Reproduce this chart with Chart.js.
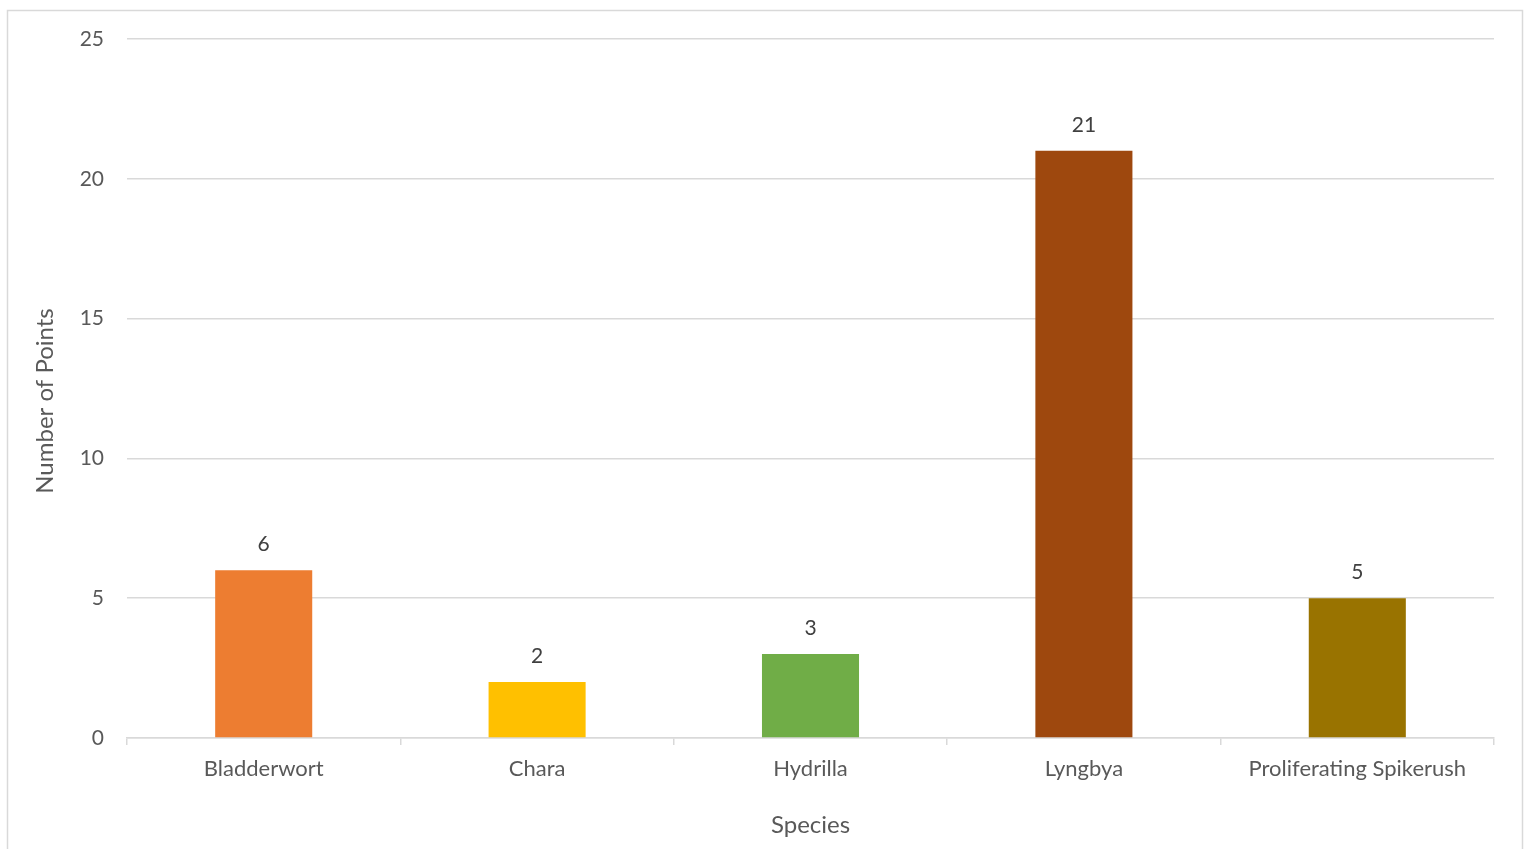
<!DOCTYPE html>
<html>
<head>
<meta charset="utf-8">
<script src="https://cdn.jsdelivr.net/npm/chart.js@4"></script>
<style>
html,body{margin:0;padding:0;background:#fff;overflow:hidden;}
#wrap{position:absolute;left:0;top:0;width:1529px;height:849px;}
</style>
</head>
<body>
<div id="wrap"><canvas id="c" width="1529" height="849"></canvas></div>
<script>
const categories = ["Bladderwort", "Chara", "Hydrilla", "Lyngbya", "Proliferating Spikerush"];
const points = [6, 2, 3, 21, 5];
const barColors = ["#ED7D31", "#FFC000", "#70AD47", "#9E480E", "#997300"];
const yTicks = [0, 5, 10, 15, 20, 25];
const xTitle = "Species";
const yTitle = "Number of Points";

const FONT = "Lato, 'Open Sans', sans-serif";

const frame = {
  id: 'frame',
  beforeDraw(chart) {
    const ctx = chart.ctx;
    ctx.save();
    ctx.fillStyle = '#fff';
    ctx.fillRect(0, 0, chart.width, chart.height);
    ctx.strokeStyle = '#d9d9d9';
    ctx.lineWidth = 1.5;
    ctx.strokeRect(7.5, 10.5, 1515, 860);
    ctx.restore();
  },
  afterDraw(chart) {
    const ctx = chart.ctx;
    ctx.save();
    ctx.font = "24px " + FONT;
    ctx.fillStyle = '#595959';
    ctx.textAlign = 'center';
    ctx.textBaseline = 'middle';
    ctx.translate(45, 401);
    ctx.rotate(-Math.PI / 2);
    ctx.fillText(yTitle, 0, 0);
    ctx.restore();
  }
};

const valueLabels = {
  id: 'valueLabels',
  afterDatasetsDraw(chart) {
    const ctx = chart.ctx;
    const meta = chart.getDatasetMeta(0);
    ctx.save();
    ctx.font = "21px " + FONT;
    ctx.fillStyle = '#404040';
    ctx.textAlign = 'center';
    ctx.textBaseline = 'middle';
    meta.data.forEach((bar, i) => {
      ctx.fillText(String(chart.data.datasets[0].data[i]), bar.x, bar.y - 26);
    });
    ctx.restore();
  }
};

new Chart(document.getElementById('c'), {
  type: 'bar',
  data: {
    labels: categories,
    datasets: [{
      data: points,
      backgroundColor: barColors,
      borderWidth: 0,
      barPercentage: 0.71,
      categoryPercentage: 0.5
    }]
  },
  options: {
    responsive: false,
    animation: false,
    devicePixelRatio: 1,
    layout: { padding: { left: 0, right: 35, top: 39, bottom: 0 } },
    plugins: { legend: { display: false }, tooltip: { enabled: false } },
    scales: {
      x: {
        offset: true,
        grid: { display: true, offset: true, drawOnChartArea: false, drawTicks: true, tickLength: 7, color: '#d9d9d9', lineWidth: 1.5 },
        border: { display: true, color: '#d9d9d9', width: 1.5 },
        ticks: { color: '#595959', font: { family: FONT, size: 22 }, padding: 11, maxRotation: 0 },
        title: { display: true, text: xTitle, color: '#595959', font: { family: FONT, size: 24 }, padding: { top: 0, bottom: 9 } },
        afterFit(scale) { scale.height = 849 - 738; }
      },
      y: {
        min: 0, max: 25,
        afterBuildTicks(scale) { scale.ticks = yTicks.map(v => ({ value: v })); },
        grid: { color: '#d9d9d9', lineWidth: 1.5, drawTicks: false },
        border: { display: false },
        ticks: { color: '#595959', font: { family: FONT, size: 21 }, padding: 23 },
        title: { display: false },
        afterFit(scale) { scale.width = 127; }
      }
    }
  },
  plugins: [frame, valueLabels]
});
</script>
</body>
</html>
